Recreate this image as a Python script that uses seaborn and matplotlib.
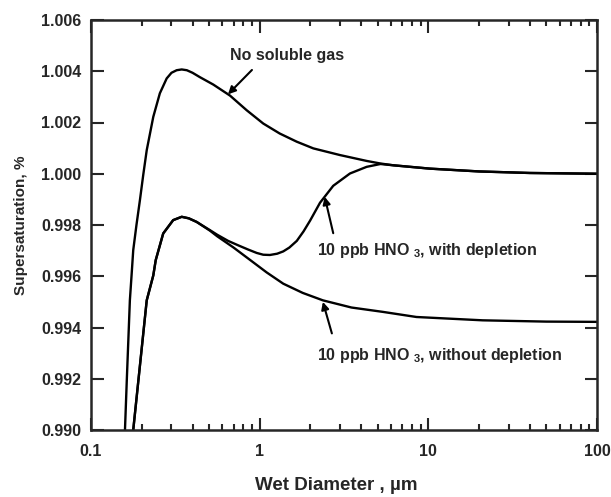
import matplotlib
matplotlib.use("Agg")
import matplotlib.pyplot as plt
import seaborn as sns
import pandas as pd
from matplotlib.ticker import FixedLocator, FixedFormatter, LogLocator, NullFormatter

# ---- data ----
x_nogas = [0.159, 0.163, 0.170, 0.174, 0.178, 0.186, 0.195, 0.204, 0.214, 0.234, 0.256,
           0.281, 0.300, 0.322, 0.345, 0.37, 0.40, 0.442, 0.531, 0.667, 0.837, 1.05, 1.315,
           1.66, 2.08, 2.99, 4.31, 5.2, 6.2, 10.2, 20, 40, 100]
y_nogas = [0.9900, 0.99194, 0.99506, 0.99604, 0.99702, 0.9980, 0.99897, 0.99995, 1.00092,
           1.00222, 1.00314, 1.00372, 1.00394, 1.00404, 1.00407, 1.00404, 1.00394, 1.00377,
           1.00348, 1.00305, 1.00248, 1.00196, 1.00157, 1.00125, 1.00099, 1.00073, 1.00050,
           1.00040, 1.00033, 1.00020, 1.00009, 1.00003, 1.00000]

x_dep = [0.178, 0.191, 0.214, 0.234, 0.242, 0.268, 0.307, 0.345, 0.38, 0.423, 0.507, 0.56,
         0.65, 0.75, 0.856, 0.96, 1.05, 1.15, 1.27, 1.38, 1.5, 1.66, 1.82, 1.99, 2.28, 2.73,
         3.43, 4.31, 5.2, 6.2, 10.2, 20, 40, 100]
y_dep = [0.9900, 0.99194, 0.99506, 0.99603, 0.99663, 0.99767, 0.99819, 0.99832, 0.99826,
         0.99812, 0.99780, 0.99762, 0.99738, 0.99720, 0.99704, 0.99691, 0.99684, 0.99683,
         0.99688, 0.99697, 0.99712, 0.99738, 0.99775, 0.99817, 0.99887, 0.99953, 1.00001,
         1.00027, 1.00038, 1.00033, 1.00020, 1.00009, 1.00003, 1.00000]

x_nodep = [0.178, 0.191, 0.214, 0.234, 0.242, 0.268, 0.307, 0.345, 0.38, 0.423, 0.507, 0.56,
           0.7, 0.88, 1.1, 1.38, 1.8, 2.37, 3.5, 5.37, 8.5, 21, 50, 100]
y_nodep = [0.9900, 0.99194, 0.99506, 0.99603, 0.99663, 0.99767, 0.99819, 0.99832, 0.99826,
           0.99812, 0.99778, 0.99756, 0.99712, 0.99663, 0.99615, 0.99571, 0.99535, 0.99506,
           0.99478, 0.99461, 0.99441, 0.99428, 0.99423, 0.99422]

y_ticks = [0.990, 0.992, 0.994, 0.996, 0.998, 1.000, 1.002, 1.004, 1.006]
y_ticklabels = ["0.990", "0.992", "0.994", "0.996", "0.998", "1.000", "1.002", "1.004", "1.006"]
x_ticks = [0.1, 1, 10, 100]
x_ticklabels = ["0.1", "1", "10", "100"]

label_nogas = "No soluble gas"
label_dep = "10 ppb HNO $_\\mathbf{3}$, with depletion"
label_nodep = "10 ppb HNO $_\\mathbf{3}$, without depletion"

# ---- styling ----
sns.set_style("ticks")
plt.rcParams["font.family"] = ["Liberation Sans", "DejaVu Sans"]
plt.rcParams["font.weight"] = "bold"
plt.rcParams["mathtext.fontset"] = "custom"
plt.rcParams["mathtext.bf"] = "Liberation Sans:bold"
plt.rcParams["mathtext.rm"] = "Liberation Sans:bold"

fig = plt.figure(figsize=(6.11, 4.97), dpi=100)
ax = fig.add_axes([91 / 611, 1 - 430 / 497, (597 - 91) / 611, (430 - 20) / 497])

for xs, ys in [(x_nogas, y_nogas), (x_dep, y_dep), (x_nodep, y_nodep)]:
    df = pd.DataFrame({"x": xs, "y": ys})
    sns.lineplot(data=df, x="x", y="y", ax=ax, color="black", lw=1.7, sort=False,
                 estimator=None)

ax.set_xscale("log")
ax.set_xlim(0.1, 100)
ax.set_ylim(0.990, 1.006)

ax.xaxis.set_major_locator(FixedLocator(x_ticks))
ax.xaxis.set_major_formatter(FixedFormatter(x_ticklabels))
ax.xaxis.set_minor_locator(LogLocator(base=10, subs=range(2, 10)))
ax.xaxis.set_minor_formatter(NullFormatter())
ax.yaxis.set_major_locator(FixedLocator(y_ticks))
ax.yaxis.set_major_formatter(FixedFormatter(y_ticklabels))

ax.tick_params(which="both", direction="in", top=True, right=True, width=1.5)
ax.tick_params(which="major", length=9, labelsize=11.5)
ax.tick_params(which="minor", length=4)
ax.tick_params(axis="y", pad=7)
ax.tick_params(axis="x", pad=10)
for lbl in ax.get_xticklabels() + ax.get_yticklabels():
    lbl.set_fontweight("bold")
for sp in ax.spines.values():
    sp.set_linewidth(1.8)

ax.set_xlabel("Wet Diameter , µm", fontsize=13.5, fontweight="bold")
ax.set_ylabel("Supersaturation, %", fontsize=11, fontweight="bold")
ax.xaxis.set_label_coords(0.484, -0.115)
ax.yaxis.set_label_coords(-0.124, 0.5)

arrow = dict(arrowstyle="-|>", color="black", lw=1.5, mutation_scale=11,
             shrinkA=0, shrinkB=0)
ax.annotate("", xy=(0.649, 1.00310), xytext=(0.90, 1.00405), arrowprops=arrow)
ax.text(1.45, 1.00463, label_nogas, ha="center", va="center", fontsize=11.5,
        fontweight="bold")
ax.annotate("", xy=(2.43, 0.99910), xytext=(2.73, 0.99768), arrowprops=arrow)
ax.text(2.2, 0.99702, label_dep, ha="left", va="center", fontsize=11.5,
        fontweight="bold")
ax.annotate("", xy=(2.37, 0.99500), xytext=(2.68, 0.99377), arrowprops=arrow)
ax.text(2.2, 0.99291, label_nodep, ha="left", va="center", fontsize=11.5,
        fontweight="bold")

fig.savefig("out.png", dpi=100)
